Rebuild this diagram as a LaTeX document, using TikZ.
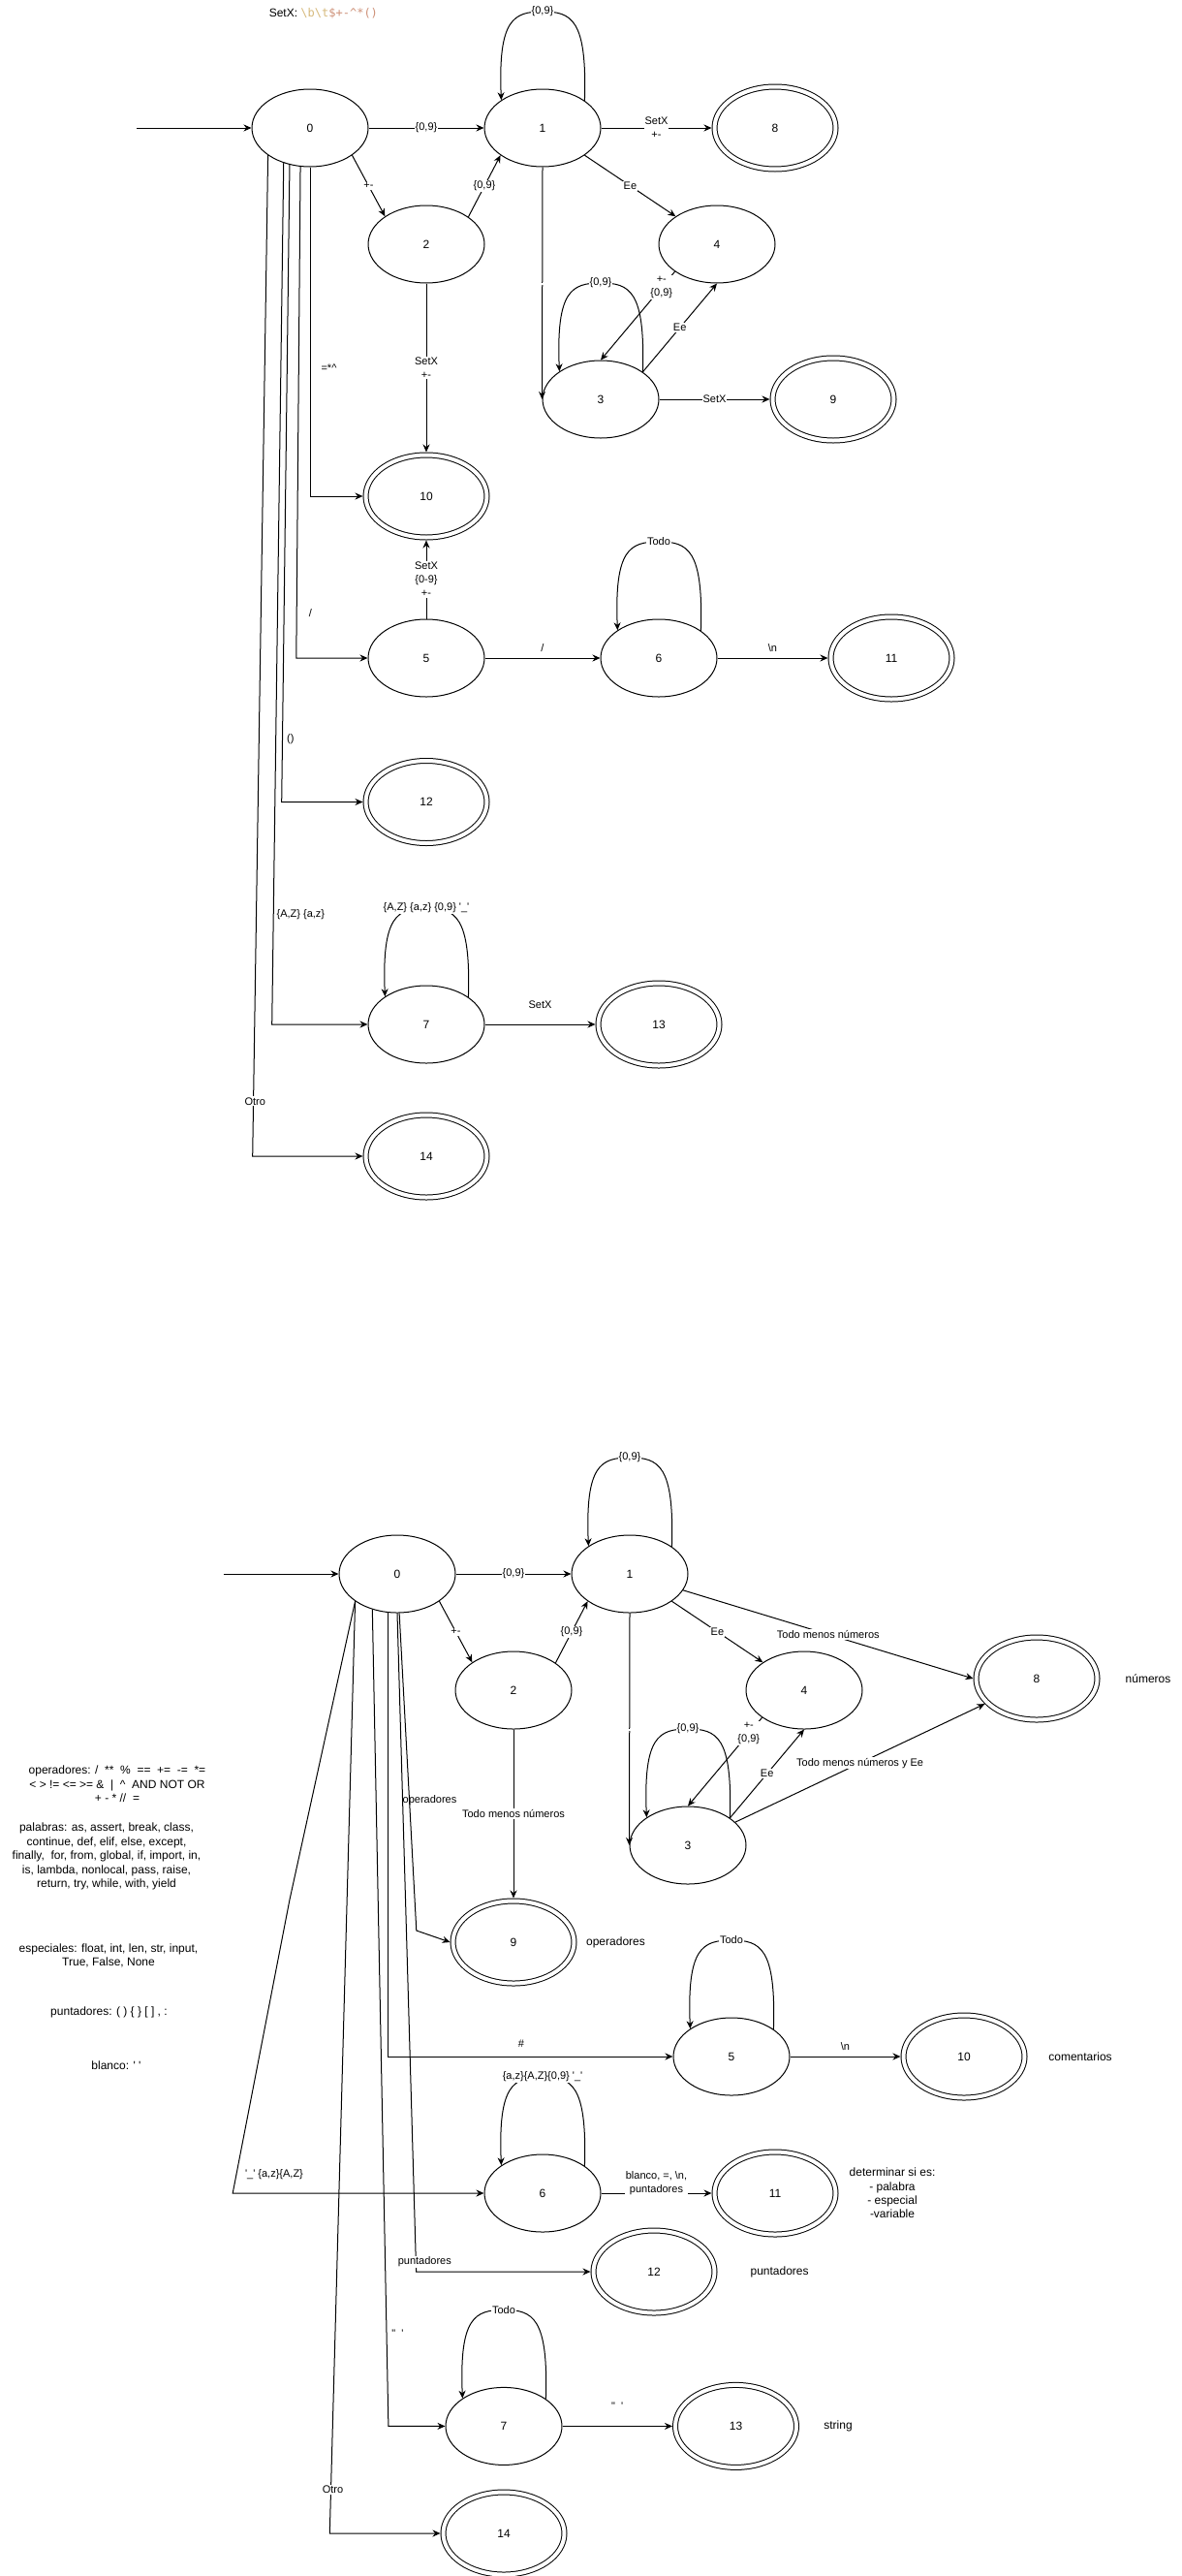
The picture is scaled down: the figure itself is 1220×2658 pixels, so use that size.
\documentclass[tikz,border=0pt]{standalone}
\usepackage{fontspec}
\setmainfont{Liberation Sans}
\newfontfamily\monof{DejaVu Sans Mono}
\usetikzlibrary{arrows.meta,shapes.geometric,calc}
\definecolor{escc}{HTML}{D7BA7D}
\definecolor{strc}{HTML}{CE9178}
\tikzset{
  st/.style={ellipse, draw, minimum width=120pt, minimum height=80pt, inner sep=0pt, font=\fontsize{12}{14.4}\selectfont},
  acc/.style={ellipse, draw, double, double distance=4pt, minimum width=125pt, minimum height=85pt, inner sep=0pt, outer sep=3pt, font=\fontsize{12}{14.4}\selectfont},
  arr/.style={-{Stealth[length=8pt,width=7pt]}},
  lbl/.style={fill=white, inner sep=1pt, align=center, font=\fontsize{11}{14}\selectfont},
  lblp/.style={inner sep=0pt, align=center, font=\fontsize{11}{14}\selectfont},
  txt/.style={inner sep=0pt, align=center, font=\fontsize{12}{14.4}\selectfont},
}
\newcommand{\selfloop}[2]{%
  \draw[arr] (#1.33.7) .. controls ($(#1.center)+(46,-112)$) and ($(#1.center)+(30,-120)$) .. ($(#1.center)+(0,-120)$) node[lbl]{#2} .. controls ($(#1.center)+(-30,-120)$) and ($(#1.center)+(-46,-112)$) .. (#1.146.3);}
\begin{document}
\begin{tikzpicture}[x=1pt, y=-1pt, line width=1pt]
\path[fill=white, use as bounding box] (0,0) rectangle (1220,2658);

% ---------- upper automaton ----------
\node[txt, anchor=west] (setx) at (277.3,14.3) {SetX: {\monof\color{escc}\textbackslash b\textbackslash t}{\monof\color{strc}\$+-\textasciicircum*()}};

\node[st] (u0) at (320,132) {0};
\node[st] (u1) at (560,132) {1};
\node[acc] (u8) at (800,132) {8};
\node[st] (u2) at (440,252) {2};
\node[st] (u4) at (740,252) {4};
\node[st] (u3) at (620,412) {3};
\node[acc] (u9) at (860,412) {9};
\node[acc] (u10) at (440,512) {10};
\node[st] (u5) at (440,679) {5};
\node[st] (u6) at (680,679) {6};
\node[acc] (u11) at (920,679) {11};
\node[acc] (u12) at (440,827.5) {12};
\node[st] (u7) at (440,1057) {7};
\node[acc] (u13) at (680,1057) {13};
\node[acc] (u14) at (440,1193) {14};

\coordinate (us) at (141,132);
\draw[arr] (us) -- (u0);
\draw[arr] (u0) -- node[lbl]{\{0,9\}} (u1);
\draw[arr] (u1) -- node[lbl]{SetX\\+-} (u8);
\draw[arr] (u0.-33.7) -- node[lbl]{+-} (u2.146.3);
\draw[arr] (u2.33.7) -- node[lbl]{\{0,9\}} (u1.213.7);
\draw[arr] (u1.-33.7) -- node[lbl]{Ee} (u4.146.3);
\draw[arr] (u1.south) -- node[lbl]{.} (u3.west);
\draw[arr] (u4.213.7) -- node[lbl,pos=0.18]{+-\\\{0,9\}} (u3.north);
\draw[arr] (u3.33.7) -- node[lbl]{Ee} (u4.south);
\draw[arr] (u3) -- node[lbl]{SetX} (u9);
\draw[arr] (u2.south) -- node[lbl]{SetX\\+-} (u10.north);
\draw[arr] (u5.north) -- node[lbl]{SetX\\\{0-9\}\\+-} (u10.south);
\draw[arr] (u5) -- node[lblp, yshift=10pt]{/} (u6);
\draw[arr] (u6) -- node[lblp, yshift=10pt]{\textbackslash n} (u11);
\draw[arr] (u7) -- node[lblp, yshift=20pt]{SetX} (u13);
\selfloop{u1}{\{0,9\}}
\selfloop{u3}{\{0,9\}}
\selfloop{u6}{Todo}
\selfloop{u7}{\{A,Z\} \{a,z\} \{0,9\} \textquotesingle\_\textquotesingle}

\draw[arr] (u0.south) -- node[lblp, pos=0.611, xshift=19.5pt]{=*\textasciicircum} (u0.south |- u10.west) -- (u10.west);
\draw[arr] (u0.256.8) -- node[lblp, pos=0.909, xshift=14.3pt]{/} (305.8,679) -- (u5.west);
\draw[arr] (u0.241.4) -- node[lblp, pos=0.902, xshift=8.4pt]{()} (290.7,827.5) -- (u12.west);
\draw[arr] (u0.233.6) -- node[lblp, pos=0.872, xshift=28.1pt]{\{A,Z\} \{a,z\}} (280.7,1057) -- (u7.west);
\draw[arr] (u0.213.7) -- node[lbl, pos=0.945, xshift=1.7pt]{Otro} (260.7,1193) -- (u14.west);

% ---------- lower automaton ----------
\node[st] (l0) at (410,1624) {0};
\node[st] (l1) at (650,1624) {1};
\node[st] (l2) at (530,1744) {2};
\node[st] (l4) at (830,1744) {4};
\node[st] (l3) at (710,1904) {3};
\node[acc] (l8) at (1070,1732) {8};
\node[acc] (l9) at (530,2004) {9};
\node[st] (l5) at (755,2122) {5};
\node[acc] (l10) at (995,2122) {10};
\node[st] (l6) at (560,2263) {6};
\node[acc] (l11) at (800,2263) {11};
\node[acc] (l12) at (675,2344) {12};
\node[st] (l7) at (520,2503.4) {7};
\node[acc] (l13) at (759.5,2503.4) {13};
\node[acc] (l14) at (520,2614) {14};

\coordinate (ls) at (230.6,1624);
\draw[arr] (ls) -- (l0);
\draw[arr] (l0) -- node[lbl]{\{0,9\}} (l1);
\draw[arr] (l0.-33.7) -- node[lbl]{+-} (l2.146.3);
\draw[arr] (l2.33.7) -- node[lbl]{\{0,9\}} (l1.213.7);
\draw[arr] (l1.-33.7) -- node[lbl]{Ee} (l4.146.3);
\draw[arr] (l1.-17.8) -- node[lbl]{Todo menos números} (l8.west);
\draw[arr] (l1.south) -- node[lbl]{.} (l3.west);
\draw[arr] (l4.213.7) -- node[lbl,pos=0.18]{+-\\\{0,9\}} (l3.north);
\draw[arr] (l3.33.7) -- node[lbl]{Ee} (l4.south);
\draw[arr] (l3.26) -- node[lbl]{Todo menos números y Ee} (l8.206.2);
\draw[arr] (l2.south) -- node[lbl]{Todo menos números} (l9.north);
\draw[arr] (l5) -- node[lblp, yshift=10pt]{\textbackslash n} (l10);
\draw[arr] (l6) -- node[lbl, yshift=10.5pt]{blanco, =, \textbackslash n,\\puntadores} (l11);
\draw[arr] (l7) -- node[lblp, yshift=21pt]{\textquotedbl\ \ \textquotesingle} (l13);
\selfloop{l1}{\{0,9\}}
\selfloop{l3}{\{0,9\}}
\selfloop{l5}{Todo}
\selfloop{l6}{\{a,z\}\{A,Z\}\{0,9\} \textquotesingle\_\textquotesingle}
\selfloop{l7}{Todo}

\draw[arr] (l0.273) -- node[lblp, pos=0.589, xshift=21pt]{operadores} (429.8,1992) -- (l9.west);
\draw[arr] (l0.256.5) |- node[lblp, pos=0.734, yshift=13.5pt]{\#} (l5.west);
\draw[arr] (l0.south) -- node[lbl, pos=0.985, xshift=9pt]{puntadores} (429.6,2344) -- (l12.west);
\draw[arr] (l0.235) -- node[lblp, pos=0.886, xshift=11.4pt]{\textquotedbl\ \ \textquotesingle} (400.9,2503.4) -- (l7.west);
\draw[arr] (l0.213.7) -- node[lbl, pos=0.953, xshift=2pt]{Otro} (340.3,2614) -- (l14.west);
\draw[arr] (l0.213.7) -- (299,1960) -- (240.2,2263) -- node[lblp, pos=0.165, yshift=19.8pt]{\textquotesingle\_\textquotesingle\ \{a,z\}\{A,Z\}} (l6.west);

% ---------- side texts ----------
\node[txt] (tops) at (121,1841) {operadores: /~~**~~\%~~==~~+=~~-=~~*=\\< > != <= >= \&~~|~~\textasciicircum~~AND NOT OR\\+ - * //~~=};
\node[txt] (tpal) at (110,1915.5) {palabras: as, assert, break, class,\\continue, def, elif, else, except,\\finally,~~for, from, global, if, import, in,\\is, lambda, nonlocal, pass, raise,\\return, try, while, with, yield};
\node[txt] (tesp) at (112,2018) {especiales: float, int, len, str, input,\\True, False, None};
\node[txt] (tpun) at (112.5,2076) {puntadores: ( ) \{ \} [ ] , :};
\node[txt] (tbla) at (120,2131) {blanco: \textquotesingle\ \textquotesingle};

\node[txt] (n9) at (635.5,2004) {operadores};
\node[txt] (n10) at (1115,2122) {comentarios};
\node[txt] (n11) at (921,2263) {determinar si es:\\- palabra\\- especial\\-variable};
\node[txt] (n12) at (804.6,2344) {puntadores};
\node[txt] (n13) at (865,2503.4) {string};
\node[txt] (n8) at (1185,1732) {números};
\end{tikzpicture}
\end{document}
